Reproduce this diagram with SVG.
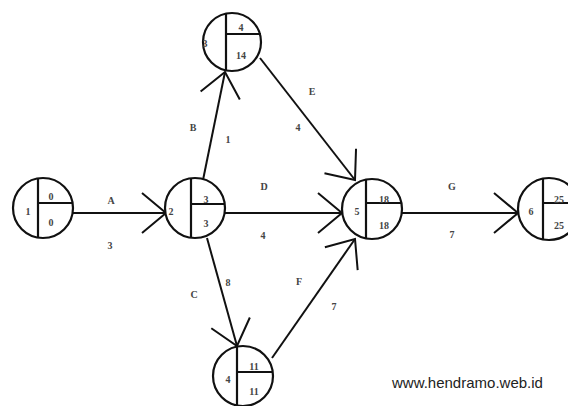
<svg xmlns="http://www.w3.org/2000/svg" width="568" height="406" viewBox="0 0 568 406">
<defs>
<marker id="arr" viewBox="-30 -25 32 50" refX="0" refY="0" markerWidth="32" markerHeight="50" markerUnits="userSpaceOnUse" orient="auto">
<path d="M-24,-20 L0,0 L-24,20" fill="none" stroke="#111" stroke-width="2"/>
</marker>
<style>
.c{fill:#fff;stroke:#111;stroke-width:2.2}
.d{stroke:#111;stroke-width:2.2;fill:none}
.e{stroke:#111;stroke-width:2;fill:none;marker-end:url(#arr)}
.t{font-family:"Liberation Serif",serif;font-size:10px;font-weight:bold;fill:#444;text-anchor:middle}
.w{font-family:"Liberation Sans",Arial,sans-serif;font-size:15px;fill:#222}
</style>
</defs>
<rect width="568" height="406" fill="#fff"/>
<g id="edges">
<line class="e" x1="73" y1="213" x2="166" y2="213"/>
<line class="e" x1="203" y1="180" x2="225" y2="72"/>
<line class="e" x1="260" y1="58" x2="355" y2="180"/>
<line class="e" x1="225" y1="213" x2="342" y2="213"/>
<line class="e" x1="207" y1="238" x2="237" y2="346"/>
<line class="e" x1="272" y1="358" x2="355" y2="239"/>
<line class="e" x1="402" y1="213" x2="518" y2="213"/>
<text class="t" x="111" y="204">A</text><text class="t" x="110" y="249">3</text>
<text class="t" x="193" y="131">B</text><text class="t" x="228" y="143">1</text>
<text class="t" x="312" y="95">E</text><text class="t" x="298" y="131">4</text>
<text class="t" x="264" y="190">D</text><text class="t" x="263" y="239">4</text>
<text class="t" x="194" y="298">C</text><text class="t" x="228" y="286">8</text>
<text class="t" x="299" y="285">F</text><text class="t" x="334" y="310">7</text>
<text class="t" x="452" y="190">G</text><text class="t" x="452" y="238">7</text>
</g>
<g id="n1"><circle class="c" cx="43" cy="208" r="30"/><path class="d" d="M38,178 V238 M38,203 H73"/><text class="t" x="28" y="215">1</text><text class="t" x="51" y="200">0</text><text class="t" x="51" y="226">0</text></g>
<g id="n2"><circle class="c" cx="195" cy="208" r="30"/><path class="d" d="M191,179 V238 M191,204 H225"/><text class="t" x="171" y="215">2</text><text class="t" x="206" y="203">3</text><text class="t" x="206" y="227">3</text></g>
<g id="n3"><circle class="c" cx="232" cy="42" r="29"/><path class="d" d="M226,13 V71 M226,34 H261"/><text class="t" x="205" y="47">3</text><text class="t" x="241" y="31">4</text><text class="t" x="241" y="59">14</text></g>
<g id="n5"><circle class="c" cx="372" cy="209" r="30"/><path class="d" d="M366,179 V239 M366,203 H402"/><text class="t" x="357" y="215">5</text><text class="t" x="384" y="203">18</text><text class="t" x="384" y="229">18</text></g>
<g id="n6"><circle class="c" cx="549" cy="209" r="31"/><path class="d" d="M543,178 V240 M543,203 H580"/><text class="t" x="531" y="215">6</text><text class="t" x="559" y="203">25</text><text class="t" x="559" y="229">25</text></g>
<g id="n4"><circle class="c" cx="243" cy="376" r="30"/><path class="d" d="M237,346 V406 M237,372 H273"/><text class="t" x="228" y="383">4</text><text class="t" x="254" y="370">11</text><text class="t" x="254" y="395">11</text></g>
<text class="w" x="392" y="388">www.hendramo.web.id</text>
</svg>
